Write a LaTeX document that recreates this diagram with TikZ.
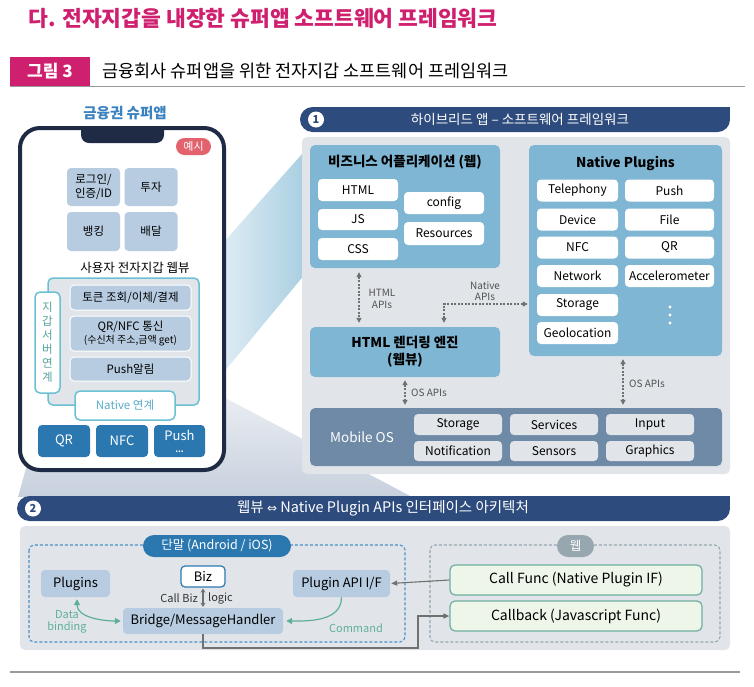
\documentclass[tikz,border=0pt]{standalone}
\usepackage{fontspec}
\setmainfont{Noto Sans CJK KR}
\newfontfamily\djv{DejaVu Sans}
\usetikzlibrary{arrows.meta}
\definecolor{mag}{HTML}{CF1F6F}
\definecolor{navy}{HTML}{2D4B7D}
\definecolor{panelg}{HTML}{E1E5E9}
\definecolor{appb}{HTML}{7FB6D3}
\definecolor{osb}{HTML}{6E8AA6}
\definecolor{lightb}{HTML}{B7CCE0}
\definecolor{darkb}{HTML}{2B78B0}
\definecolor{tealb}{HTML}{6BC1D3}
\definecolor{phone}{HTML}{1F2A44}
\definecolor{exred}{HTML}{E2636E}
\definecolor{greenf}{HTML}{EEF5E9}
\definecolor{greenb}{HTML}{6DAF9F}
\definecolor{tealt}{HTML}{5FAE9C}
\definecolor{dashb}{HTML}{4A90C8}
\definecolor{pillg}{HTML}{97A7AF}
\definecolor{titleb}{HTML}{3B82C0}
\definecolor{arrg}{HTML}{707070}
\definecolor{labg}{HTML}{505050}
\definecolor{lineg}{HTML}{9A9A9A}
\definecolor{fanL}{HTML}{EEF5FA}
\definecolor{fanR}{HTML}{A6CDE0}
\definecolor{fanT}{HTML}{EEF1F5}
\definecolor{fanB}{HTML}{C7D0DD}
\newcommand\fsz[2]{\fontsize{#1}{#2}\selectfont}
\tikzset{
  bx/.style={inner sep=0pt, align=center},
  lbox/.style={bx, fill=lightb, rounded corners=4pt, font=\fsz{11.5}{14}},
  wbox/.style={bx, fill=white, rounded corners=4pt, font=\fsz{12}{14}},
  gbox/.style={bx, fill=panelg, rounded corners=4pt, font=\fsz{12}{14}},
  bigbox/.style={bx, rounded corners=5pt},
  dbtn/.style={bx, fill=darkb, text=white, rounded corners=4pt, font=\fsz{13}{13}},
  lab/.style={inner sep=0pt, align=center, text=labg, font=\fsz{10}{11.5}},
  dotarr/.style={draw=arrg, line width=1.1pt, dash pattern=on 2pt off 1.5pt, {Triangle[length=5pt,width=5pt]}-{Triangle[length=5pt,width=5pt]}},
  tealarr/.style={draw=tealt, line width=1.2pt},
  grarr/.style={draw=arrg, line width=1.1pt},
  greenbox/.style={bx, fill=greenf, draw=greenb, line width=1.2pt, rounded corners=5pt, font=\fsz{14}{16}},
  pill/.style={bx, rounded corners=11pt, text=white, font=\fsz{12.5}{14}},
  hdr/.style={text=white, font=\fsz{13.5}{15}, inner sep=0pt},
  num/.style={circle, fill=white, text=navy, inner sep=0pt, minimum size=16pt, font=\fsz{11}{12}\bfseries}
}
\begin{document}
\begin{tikzpicture}[x=1pt,y=-1pt]
\useasboundingbox (0,0) rectangle (754,686);
\fill[white] (0,0) rectangle (754,686);

% background fans
\shade[left color=fanL, right color=fanR] (199,270) -- (310,145) -- (310,268) -- (199,402) -- cycle;
\shade[top color=fanT, bottom color=fanB] (45,400) -- (199,384) -- (412,497) -- (18,497) -- cycle;

% title and caption
\node[anchor=west, text=mag, font=\fsz{21.5}{25}\bfseries] (title) at (25,18) {다. 전자지갑을 내장한 슈퍼앱 소프트웨어 프레임워크};
\node[bx, fill=mag, text=white, minimum width=80pt, minimum height=29pt, font=\fsz{17}{19}\bfseries] (fig) at (50,71) {그림 3};
\node[anchor=west, font=\fsz{17.5}{19}] (cap) at (99,71) {금융회사 슈퍼앱을 위한 전자지갑 소프트웨어 프레임워크};
\draw[lineg, line width=1.5pt] (10,86.5) -- (745,86.5);

% ---------------- phone
\node[text=titleb, font=\fsz{14.5}{16}\bfseries] (phtitle) at (125,113) {금융권 슈퍼앱};
\draw[draw=phone, line width=4pt, fill=white, rounded corners=20pt] (20,128) rectangle (224,470);
\fill[phone, rounded corners=8pt] (81,127) -- (81,143) -- (164,143) -- (164,127);
\node[bx, fill=exred, text=white, rounded corners=8.5pt, minimum width=35pt, minimum height=17pt, font=\fsz{11}{12}] (ex) at (193.5,146.5) {예시};

\node[lbox, minimum width=53pt, minimum height=38pt] (login) at (93.5,187) {로그인/\\인증/ID};
\node[lbox, minimum width=53pt, minimum height=38pt] (invest) at (151,187) {투자};
\node[lbox, minimum width=53pt, minimum height=39pt] (bank) at (93.5,231.5) {뱅킹};
\node[lbox, minimum width=53pt, minimum height=39pt] (deliv) at (151,231.5) {배달};

\node[font=\fsz{12.5}{14}] (wvtitle) at (135,268) {사용자 전자지갑 웹뷰};
\node[bx, fill=panelg, draw=tealb, line width=1.5pt, rounded corners=5pt, minimum width=151pt, minimum height=127pt] (wv) at (123.5,341.5) {};
\node[bx, fill=white, draw=tealb, line width=1.5pt, rounded corners=5pt, minimum width=25pt, minimum height=101pt, text=tealt!80!darkb, font=\fsz{11.5}{14}] (srv) at (47.5,342.5) {지\\갑\\서\\버\\연\\계};
\node[lbox, draw=white, line width=1pt, minimum width=121pt, minimum height=25pt] (tok) at (130.5,297.5) {토큰 조회/이체/결제};
\node[lbox, draw=white, line width=1pt, minimum width=121pt, minimum height=35pt] (qrn) at (130.5,333.5) {QR/NFC 통신\\[-1pt]{\fsz{10}{12}(수신처 주소,금액 get)}};
\node[lbox, draw=white, line width=1pt, minimum width=121pt, minimum height=24pt] (push) at (130.5,369) {Push알림};
\node[bx, fill=white, draw=tealb, line width=1.5pt, rounded corners=5pt, minimum width=100pt, minimum height=29pt, text=tealb!70!darkb, font=\fsz{11.5}{13}] (nat) at (125,405.5) {Native 연계};

\node[dbtn, minimum width=52pt, minimum height=32pt] (bqr) at (64,441) {QR};
\node[dbtn, minimum width=52pt, minimum height=32pt] (bnfc) at (122,441) {NFC};
\node[dbtn, minimum width=51pt, minimum height=32pt] (bpush) at (179.5,441) {Push\\[-1pt]{\fsz{8}{8}\textbf{...}}};

% ---------------- section 1
\fill[navy, rounded corners=12.5pt] (300,107) rectangle (730,132);
\fill[navy] (700,107) rectangle (730,118);
\node[num] (n1) at (316,119.5) {1};
\node[hdr] (h1) at (520,119.5) {하이브리드 앱 – 소프트웨어 프레임워크};
\fill[panelg, rounded corners=5pt] (302,137) rectangle (730,474);

\node[bigbox, fill=appb, minimum width=190pt, minimum height=123pt] (app) at (405,206.5) {};
\node[font=\fsz{13.5}{15}\bfseries] (apptitle) at (405,162) {비즈니스 어플리케이션 (웹)};
\node[wbox, minimum width=80pt, minimum height=22pt] (html) at (358,190) {HTML};
\node[wbox, minimum width=80pt, minimum height=21pt] (js) at (358,219.5) {JS};
\node[wbox, minimum width=80pt, minimum height=22pt] (css) at (358,249) {CSS};
\node[wbox, minimum width=80pt, minimum height=22pt] (cfg) at (444,203) {config};
\node[wbox, minimum width=80pt, minimum height=23pt] (res) at (444,233.5) {Resources};

\node[bigbox, fill=appb, minimum width=193pt, minimum height=211pt] (plug) at (625.5,250.5) {};
\node[font=\fsz{13.5}{15}\bfseries] (plugtitle) at (625.5,163) {Native Plugins};
\node[wbox, minimum width=81pt, minimum height=22pt] (tel) at (577.5,190.5) {Telephony};
\node[wbox, minimum width=81pt, minimum height=22pt] (dev) at (577.5,219.5) {Device};
\node[wbox, minimum width=81pt, minimum height=22pt] (nfc) at (577.5,247.5) {NFC};
\node[wbox, minimum width=81pt, minimum height=22pt] (net) at (577.5,276) {Network};
\node[wbox, minimum width=81pt, minimum height=22pt] (sto) at (577.5,305) {Storage};
\node[wbox, minimum width=81pt, minimum height=22pt] (geo) at (577.5,333) {Geolocation};
\node[wbox, minimum width=89pt, minimum height=22pt] (ppush) at (669.5,190.5) {Push};
\node[wbox, minimum width=89pt, minimum height=22pt] (file) at (669.5,219.5) {File};
\node[wbox, minimum width=89pt, minimum height=22pt] (pqr) at (669.5,247.5) {QR};
\node[wbox, minimum width=89pt, minimum height=22pt] (acc) at (669.5,276) {Accelerometer};
\foreach \yy in {307,315,323} \fill[white] (670,\yy) circle[radius=1.7pt];

\node[bigbox, fill=appb, minimum width=190pt, minimum height=50pt, font=\fsz{13.5}{17}\bfseries] (rend) at (405,352) {HTML 렌더링 엔진\\(웹뷰)};

\node[bigbox, fill=osb, minimum width=412pt, minimum height=58pt] (os) at (516,437) {};
\node[text=white, font=\fsz{13.5}{15}] (ostitle) at (362,437) {Mobile OS};
\node[gbox, minimum width=88pt, minimum height=21pt] (osst) at (458,424.5) {Storage};
\node[gbox, minimum width=88pt, minimum height=21pt] (ossv) at (554,424.5) {Services};
\node[gbox, minimum width=88pt, minimum height=21pt] (osin) at (650,424.5) {Input};
\node[gbox, minimum width=88pt, minimum height=20pt] (osno) at (458,451) {Notification};
\node[gbox, minimum width=88pt, minimum height=20pt] (osse) at (554,451) {Sensors};
\node[gbox, minimum width=88pt, minimum height=20pt] (osgr) at (650,451) {Graphics};

\coordinate (hx) at (359,0);
\coordinate (nx) at (444,0);
\coordinate (ny) at (0,304);
\coordinate (ox) at (405,0);
\coordinate (ox2) at (623,0);
\draw[dotarr, shorten <=4pt, shorten >=4pt] (app.south -| hx) -- (rend.north -| hx);
\draw[dotarr, shorten <=4pt, shorten >=1pt] (rend.north -| nx) |- (plug.west |- ny);
\draw[dotarr, shorten <=3pt, shorten >=3pt] (rend.south -| ox) -- (os.north -| ox);
\draw[dotarr, shorten <=3pt, shorten >=3pt] (plug.south -| ox2) -- (os.north -| ox2);
\node[lab] (lhtml) at (382,299) {HTML\\APIs};
\node[lab] (lnat) at (485,291) {Native\\APIs};
\node[lab, anchor=west] (los1) at (411,393) {OS APIs};
\node[lab, anchor=west] (los2) at (629,384) {OS APIs};

% ---------------- section 2
\fill[navy, rounded corners=12.5pt] (17,496) rectangle (730,521);
\fill[navy] (700,496) rectangle (730,507);
\node[num] (n2) at (33,508.5) {2};
\node[hdr, font=\fsz{14.5}{16}] (h2) at (383,508.5) {웹뷰 {\djv\fsz{12}{12}⇔} Native Plugin APIs 인터페이스 아키텍처};
\fill[panelg, rounded corners=5pt] (20,526) rectangle (730,650);

\draw[dashb, line width=1.1pt, dash pattern=on 3pt off 2pt, rounded corners=5pt] (29,545) rectangle (405,642);
\draw[pillg, line width=1.1pt, dash pattern=on 3pt off 2pt, rounded corners=5pt] (430,545) rectangle (720,642);
\node[pill, fill=darkb, minimum width=148pt, minimum height=22pt] (dev2) at (217,546) {단말 (Android / iOS)};
\node[pill, fill=pillg, minimum width=37pt, minimum height=22pt] (web) at (575.5,546) {웹};

\node[lbox, minimum width=69pt, minimum height=27pt, font=\fsz{13}{15}] (plugins) at (75.5,583.5) {Plugins};
\node[bx, fill=white, draw=darkb, line width=1.2pt, rounded corners=4pt, minimum width=44pt, minimum height=21pt, font=\fsz{13}{15}] (biz) at (203,576.5) {Biz};
\node[lbox, minimum width=160pt, minimum height=26pt, font=\fsz{13}{15}] (bridge) at (203,621) {Bridge/MessageHandler};
\node[lbox, minimum width=97pt, minimum height=27pt, font=\fsz{13}{15}] (papi) at (341.5,583.5) {Plugin API I/F};
\node[greenbox, minimum width=252pt, minimum height=30pt] (callf) at (576,580) {Call Func (Native Plugin IF)};
\node[greenbox, minimum width=252pt, minimum height=30pt] (callb) at (576,616) {Callback (Javascript Func)};

\draw[grarr, {Stealth[length=4pt,width=5pt]}-{Stealth[length=4pt,width=5pt]}, shorten <=1pt, shorten >=1pt] (biz.south) -- (bridge.north);
\node[lab, anchor=east, text=black!80, font=\fsz{11}{12}] (lcb) at (198,598) {Call Biz};
\node[lab, anchor=west, text=black!80, font=\fsz{11}{12}] (llg) at (208,598) {logic};

\draw[tealarr, {Triangle[length=6pt,width=6pt]}-{Triangle[length=6pt,width=6pt]}, shorten <=2pt, shorten >=2pt] (plugins.south -| 77,0) to[out=-90, in=180] (bridge.west);
\node[lab, text=tealt, font=\fsz{11}{12}] (ldb) at (67,622) {Data\\binding};
\draw[tealarr, -{Triangle[length=6pt,width=6pt]}, shorten >=3pt] (papi.south) to[out=-90, in=0] (bridge.east);
\node[lab, text=tealt, font=\fsz{11}{12}] (lcmd) at (356,628) {Command};

\draw[grarr, -{Triangle[length=6pt,width=5pt]}, shorten >=1pt] (callf.west) -- (papi.east);
\coordinate (cx) at (418,648);
\draw[grarr, -{Triangle[length=6pt,width=5pt]}] (bridge.south) |- (cx) |- (callb.west);

\draw[lineg, line width=1.5pt] (10,672) -- (740,672);
\end{tikzpicture}
\end{document}
